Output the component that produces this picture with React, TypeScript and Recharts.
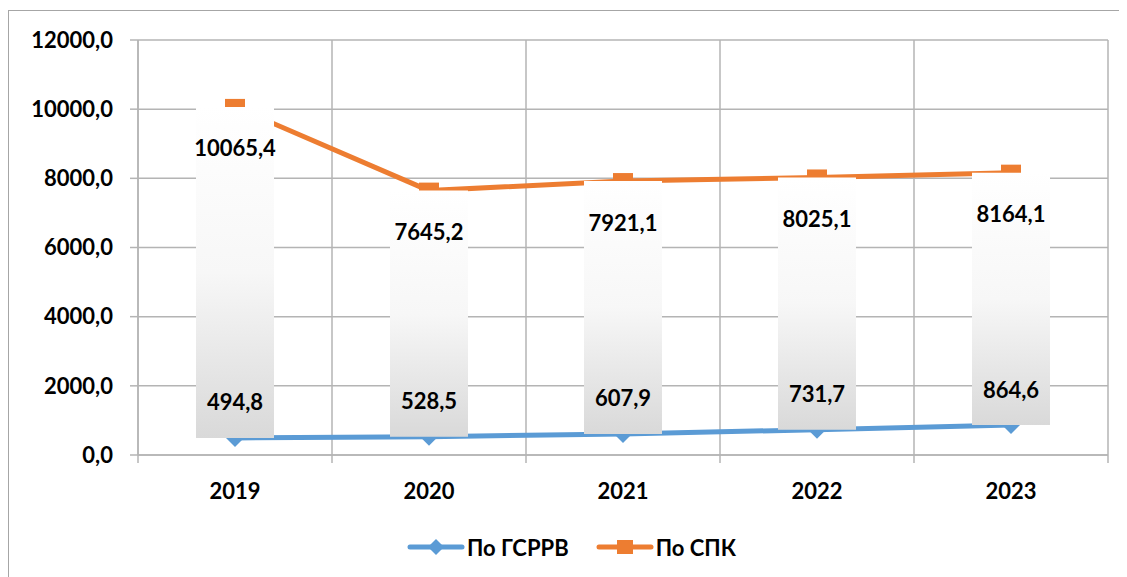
import { ComposedChart, Bar, Line, XAxis, YAxis, CartesianGrid, LabelList } from 'recharts';

const years = ['2019', '2020', '2021', '2022', '2023'];
const gsrrv = [494.8, 528.5, 607.9, 731.7, 864.6];
const spk = [10065.4, 7645.2, 7921.1, 8025.1, 8164.1];
const yTicks = [0, 2000, 4000, 6000, 8000, 10000, 12000];

const data = years.map((year, i) => ({
  year,
  gsrrv: gsrrv[i],
  spk: spk[i],
  range: [gsrrv[i], spk[i]],
}));

const W = 1119;
const H = 569;
const margin = { top: 32, right: 19, bottom: 82, left: 0 };
const yAxisWidth = 130;
const band = (W - margin.left - margin.right - yAxisWidth) / years.length;

const BLUE = '#5B9BD5';
const ORANGE = '#ED7D31';
const GRID = '#b4b4b4';
const FONT = 'Lato, "Open Sans", sans-serif';

const fmt = (v: number) => v.toFixed(1).replace('.', ',');

const Diamond = (props: any) => {
  const { cx, cy } = props;
  if (cx == null || cy == null) return null;
  return <polygon points={`${cx},${cy - 9} ${cx + 9},${cy} ${cx},${cy + 9} ${cx - 9},${cy}`} fill={BLUE} />;
};

const Square = (props: any) => {
  const { cx, cy } = props;
  if (cx == null || cy == null) return null;
  return <rect x={cx - 10} y={cy - 8} width={20} height={16} fill={ORANGE} />;
};

const XTick = (props: any) => {
  const { x, y, payload, index } = props;
  const axisY = y - 8;
  return (
    <g>
      <line x1={x - band / 2} x2={x - band / 2} y1={axisY} y2={axisY + 8} stroke={GRID} strokeWidth={1.5} />
      {index === years.length - 1 && (
        <line x1={x + band / 2} x2={x + band / 2} y1={axisY} y2={axisY + 8} stroke={GRID} strokeWidth={1.5} />
      )}
      <text x={x} y={axisY + 35} textAnchor="middle" dominantBaseline="central" fontSize={22} fontWeight={700} fontFamily={FONT} fill="#000">
        {payload.value}
      </text>
    </g>
  );
};

const topLabel = (p: any) => {
  const top = Math.min(p.y, p.y + p.height);
  return (
    <text x={p.x + p.width / 2} y={top + 41} textAnchor="middle" dominantBaseline="central" fontSize={22} fontWeight={700} fontFamily={FONT} fill="#000">
      {fmt(p.value)}
    </text>
  );
};

const bottomLabel = (p: any) => {
  const bottom = Math.max(p.y, p.y + p.height);
  return (
    <text x={p.x + p.width / 2} y={bottom - 36} textAnchor="middle" dominantBaseline="central" fontSize={22} fontWeight={700} fontFamily={FONT} fill="#000">
      {fmt(p.value)}
    </text>
  );
};

const legendItems = [
  { name: 'По ГСРРВ', color: BLUE, marker: 'diamond' },
  { name: 'По СПК', color: ORANGE, marker: 'square' },
];

const App = () => {
  return (
    <div style={{ position: 'relative', width: W, height: H, fontFamily: FONT }}>
      <div style={{ position: 'absolute', left: 0, top: 2, right: -20, bottom: -20, borderTop: '1.5px solid #a6a6a6', borderLeft: '1.5px solid #a6a6a6' }} />
      {/* base chart: grid, axes, lines */}
      <div style={{ position: 'absolute', left: 0, top: 0 }}>
        <ComposedChart width={W} height={H} data={data} margin={margin}>
          <CartesianGrid
            stroke={GRID}
            strokeWidth={1.5}
            verticalCoordinatesGenerator={({ offset }: any) =>
              years.concat('').map((_, i) => offset.left + i * (offset.width / years.length))
            }
          />
          <XAxis
            dataKey="year"
            height={40}
            tickLine={false}
            tickSize={8}
            tickMargin={0}
            axisLine={{ stroke: GRID, strokeWidth: 1.5 }}
            tick={<XTick />}
            interval={0}
          />
          <YAxis
            width={yAxisWidth}
            domain={[0, 12000]}
            ticks={yTicks}
            tickFormatter={fmt}
            tickSize={8}
            tickMargin={17}
            axisLine={{ stroke: GRID, strokeWidth: 1.5 }}
            tickLine={{ stroke: GRID, strokeWidth: 1.5 }}
            tick={{ fontSize: 22, fontWeight: 700, fill: '#000', fontFamily: FONT }}
          />
          <Bar dataKey="range" barSize={78} fill="transparent" isAnimationActive={false} />
          <Line dataKey="gsrrv" stroke={BLUE} strokeWidth={5} dot={<Diamond />} activeDot={false} isAnimationActive={false} />
          <Line dataKey="spk" stroke={ORANGE} strokeWidth={5} dot={<Square />} activeDot={false} isAnimationActive={false} />
        </ComposedChart>
      </div>
      {/* overlay chart: up/down bars with value labels, drawn over the lines */}
      <div style={{ position: 'absolute', left: 0, top: 0, pointerEvents: 'none' }}>
        <ComposedChart width={W} height={H} data={data} margin={margin}>
          <defs>
            <linearGradient id="barGrad" x1="0" y1="0" x2="0" y2="1">
              <stop offset="0%" stopColor="#ffffff" />
              <stop offset="50%" stopColor="#f7f7f7" />
              <stop offset="100%" stopColor="#d9d9d9" />
            </linearGradient>
          </defs>
          <XAxis dataKey="year" height={40} tick={false} tickLine={false} axisLine={false} />
          <YAxis width={yAxisWidth} domain={[0, 12000]} ticks={yTicks} tick={false} tickLine={false} axisLine={false} />
          <Bar dataKey="range" barSize={78} fill="url(#barGrad)" isAnimationActive={false}>
            <LabelList dataKey="spk" content={topLabel} />
            <LabelList dataKey="gsrrv" content={bottomLabel} />
          </Bar>
        </ComposedChart>
      </div>
      <div style={{ position: 'absolute', top: 524, left: 0, width: W, display: 'flex', justifyContent: 'center', gap: 27, paddingLeft: 4 }}>
        {legendItems.map((item) => (
          <div key={item.name} style={{ display: 'flex', alignItems: 'center' }}>
            <svg width={58} height={30}>
              <line x1={3} x2={55} y1={15} y2={15} stroke={item.color} strokeWidth={5} strokeLinecap="round" />
              {item.marker === 'diamond' ? (
                <polygon points="29,7 37,15 29,23 21,15" fill={item.color} />
              ) : (
                <rect x={21} y={8} width={16} height={14} fill={item.color} />
              )}
            </svg>
            <span style={{ fontSize: 22, fontWeight: 700, color: '#000', marginLeft: 2 }}>{item.name}</span>
          </div>
        ))}
      </div>
    </div>
  );
};

export default App;
